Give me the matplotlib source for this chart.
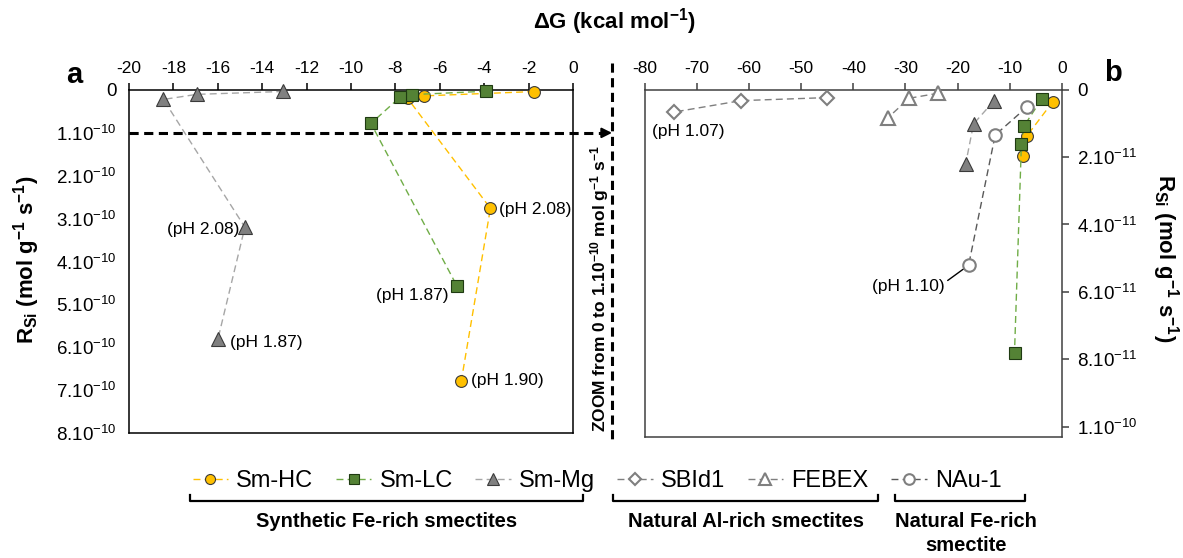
import matplotlib
matplotlib.use('Agg')
import matplotlib.pyplot as plt
import numpy as np
from matplotlib.lines import Line2D
from matplotlib import transforms

plt.rcParams['font.family'] = ['Liberation Sans', 'DejaVu Sans']
plt.rcParams['mathtext.fontset'] = 'custom'
plt.rcParams['mathtext.rm'] = 'Liberation Sans'
plt.rcParams['mathtext.it'] = 'Liberation Sans:italic'
plt.rcParams['mathtext.bf'] = 'Liberation Sans:bold'
plt.rcParams['mathtext.default'] = 'regular'

# synthetic Fe-rich smectites: dG (kcal/mol), R_Si (mol/g/s)
hc_dg = [-1.75, -6.7, -7.45, -3.72, -5.03]
hc_r = [3.6e-12, 13.7e-12, 19.6e-12, 2.76e-10, 6.78e-10]
lc_dg = [-3.92, -7.27, -7.78, -9.1, -5.23]
lc_r = [2.9e-12, 10.8e-12, 16.2e-12, 7.8e-11, 4.57e-10]
mg_dg = [-13.05, -16.95, -18.45, -14.78, -15.99]
mg_r = [3.4e-12, 10.2e-12, 22.0e-12, 3.2e-10, 5.8e-10]

# natural smectites
sb_dg = [-45.0, -61.5, -74.4]
sb_r = [2.4e-12, 3.3e-12, 6.7e-12]
fb_dg = [-23.7, -29.3, -33.3]
fb_r = [1.1e-12, 2.6e-12, 8.3e-12]
nau_dg = [-6.65, -12.8, -17.9]
nau_r = [5.1e-12, 13.5e-12, 52.1e-12]

left_xticks = [-20, -18, -16, -14, -12, -10, -8, -6, -4, -2, 0]
left_yticks = [0, 1e-10, 2e-10, 3e-10, 4e-10, 5e-10, 6e-10, 7e-10, 8e-10]
left_ylabels = ['0'] + ['%d.10$^{-10}$' % i for i in range(1, 9)]
right_xticks = [-80, -70, -60, -50, -40, -30, -20, -10, 0]
right_yticks = [0, 2e-11, 4e-11, 6e-11, 8e-11, 1e-10]
right_ylabels = ['0', '2.10$^{-11}$', '4.10$^{-11}$', '6.10$^{-11}$',
                 '8.10$^{-11}$', '1.10$^{-10}$']
zoom_limit = 1e-10

W, H = 1183, 558
fig = plt.figure(figsize=(W / 100, H / 100), dpi=100)


def fx(px):
    return px / W


def fy(py):
    return 1 - py / H


ax1 = fig.add_axes([fx(129), fy(433), fx(573 - 129), (433 - 90) / H])
ax2 = fig.add_axes([fx(644.5), fy(437), fx(1062 - 644.5), (437 - 89.5) / H])

dash = (0, (5, 3))
styles = {
    'Sm-HC': dict(marker='o', ms=8.5, mfc='#FFC000', mec='#3a3a3a', mew=0.8, color='#FFC000'),
    'Sm-LC': dict(marker='s', ms=8.5, mfc='#548235', mec='#1f3a12', mew=0.8, color='#70AD47'),
    'Sm-Mg': dict(marker='^', ms=9.5, mfc='#808080', mec='#3a3a3a', mew=0.8, color='#A6A6A6'),
    'SBId1': dict(marker='D', ms=7, mfc='white', mec='#7F7F7F', mew=1.5, color='#7F7F7F'),
    'FEBEX': dict(marker='^', ms=10, mfc='white', mec='#7F7F7F', mew=1.5, color='#7F7F7F'),
    'NAu-1': dict(marker='o', ms=9, mfc='white', mec='#7F7F7F', mew=1.5, color='#595959'),
}

synth = [('Sm-HC', hc_dg, hc_r), ('Sm-LC', lc_dg, lc_r), ('Sm-Mg', mg_dg, mg_r)]
natural = [('SBId1', sb_dg, sb_r), ('FEBEX', fb_dg, fb_r), ('NAu-1', nau_dg, nau_r)]

handles = []
for name, x, y in synth:
    h, = ax1.plot(x, y, ls=dash, lw=1, label=name, clip_on=False, zorder=3, **styles[name])
    handles.append(h)
    x = np.array(x)
    y = np.array(y)
    m = y <= zoom_limit
    ax2.plot(x[m], y[m], ls=dash, lw=1, clip_on=False, zorder=3, **styles[name])
for name, x, y in natural:
    h, = ax2.plot(x, y, ls=dash, lw=1, label=name, clip_on=False, zorder=3, **styles[name])
    handles.append(h)

# axes formatting
for ax, col in [(ax1, 'black'), (ax2, '#404040')]:
    for s in ax.spines.values():
        s.set_color(col)
        s.set_linewidth(1.1)
    ax.xaxis.tick_top()
    ax.tick_params(axis='x', direction='out', length=5, width=1.1, pad=5,
                   labelsize=12.5, colors=col, labelcolor='black')

ax1.set_xlim(-20, 0)
ax1.set_ylim(8e-10, 0)
ax1.set_xticks(left_xticks)
ax1.set_xticklabels([str(v) for v in left_xticks])
ax1.set_yticks(left_yticks)
ax1.set_yticklabels(left_ylabels)
ax1.tick_params(axis='y', length=0, pad=9, labelsize=13.5)

ax2.set_xlim(-80, 0)
ax2.set_ylim(1.03e-10, 0)
ax2.set_xticks(right_xticks)
ax2.set_xticklabels([str(v) for v in right_xticks])
ax2.yaxis.tick_right()
ax2.set_yticks(right_yticks)
ax2.set_yticklabels(right_ylabels)
ax2.tick_params(axis='y', direction='out', length=5, width=1.1, pad=6,
                labelsize=13.5, colors='#404040', labelcolor='black')

# pH annotations
ann = dict(textcoords='offset pixels', fontsize=12.5, va='center')
ax1.annotate('(pH 2.08)', (mg_dg[3], mg_r[3]), xytext=(-6, -2), ha='right', **ann)
ax1.annotate('(pH 1.87)', (mg_dg[4], mg_r[4]), xytext=(12, -4), ha='left', **ann)
ax1.annotate('(pH 1.87)', (lc_dg[4], lc_r[4]), xytext=(-8, -10), ha='right', **ann)
ax1.annotate('(pH 2.08)', (hc_dg[3], hc_r[3]), xytext=(9, -1), ha='left', **ann)
ax1.annotate('(pH 1.90)', (hc_dg[4], hc_r[4]), xytext=(10, 0), ha='left', **ann)
ax2.annotate('(pH 1.07)', (sb_dg[2], sb_r[2]), xytext=(15, -19), ha='center', **ann)
ax2.annotate('(pH 1.10)', (nau_dg[2], nau_r[2]), xytext=(-60, -21), ha='center',
             arrowprops=dict(arrowstyle='-', color='black', lw=1, shrinkA=0, shrinkB=5,
                             relpos=(1.0, 0.75)), **ann)

# axis titles
fig.text(fx(614), fy(22), r'$\Delta$G (kcal mol$^{-1}$)', ha='center', va='center',
         fontsize=16, fontweight='bold')
fig.text(fx(27), fy(260), 'R$_{Si}$ (mol g$^{-1}$ s$^{-1}$)', rotation=90,
         ha='center', va='center', fontsize=16, fontweight='bold')
fig.text(fx(1165), fy(258), 'R$_{Si}$ (mol g$^{-1}$ s$^{-1}$)', rotation=270,
         ha='center', va='center', fontsize=16, fontweight='bold')
fig.text(fx(74), fy(75), 'a', ha='center', va='center', fontsize=21, fontweight='bold')
fig.text(fx(1113), fy(73), 'b', ha='center', va='center', fontsize=21, fontweight='bold')

# zoom indicator
bt = transforms.blended_transform_factory(fig.transFigure, ax1.transData)
fig.add_artist(Line2D([fx(129), fx(604)], [zoom_limit, zoom_limit], transform=bt,
                      color='black', lw=2.2, ls=(0, (3, 1.8))))
ax1.annotate('', xy=(fx(612), zoom_limit), xycoords=bt,
             xytext=(fx(601), zoom_limit), textcoords=bt,
             arrowprops=dict(arrowstyle='-|>,head_length=0.6,head_width=0.3',
                             color='black', lw=1.5, shrinkA=0, shrinkB=0),
             annotation_clip=False)
fig.add_artist(Line2D([fx(612), fx(612)], [fy(63), fy(442)], transform=fig.transFigure,
                      color='black', lw=2.2, ls=(0, (3, 1.8))))
fig.text(fx(600), fy(432), 'ZOOM from 0 to 1.10$^{-10}$ mol g$^{-1}$ s$^{-1}$',
         rotation=90, ha='center', va='bottom', fontsize=12.5, fontweight='bold')

# legend
fig.legend(handles=handles, labels=[h.get_label() for h in handles], ncol=6,
           loc='center', bbox_to_anchor=(fx(597), fy(481)), frameon=False,
           fontsize=17, handlelength=1.5, handletextpad=0.35, columnspacing=0.95,
           borderaxespad=0, borderpad=0, markerscale=0.85)

# group brackets
groups = [('Synthetic Fe-rich smectites', 190, 583),
          ('Natural Al-rich smectites', 613, 878),
          ('Natural Fe-rich\nsmectite', 895, 1025)]
for label, x0, x1 in groups:
    fig.add_artist(Line2D([fx(x0), fx(x0), fx(x1), fx(x1)],
                          [fy(495), fy(501), fy(501), fy(495)],
                          transform=fig.transFigure, color='black', lw=1.6))
    fig.text(fx((x0 + x1) / 2 + (0 if '\n' not in label else 6)), fy(512), label,
             ha='center', va='top', fontsize=14.5, fontweight='bold', linespacing=1.35)

fig.savefig('out.png', dpi=100)
